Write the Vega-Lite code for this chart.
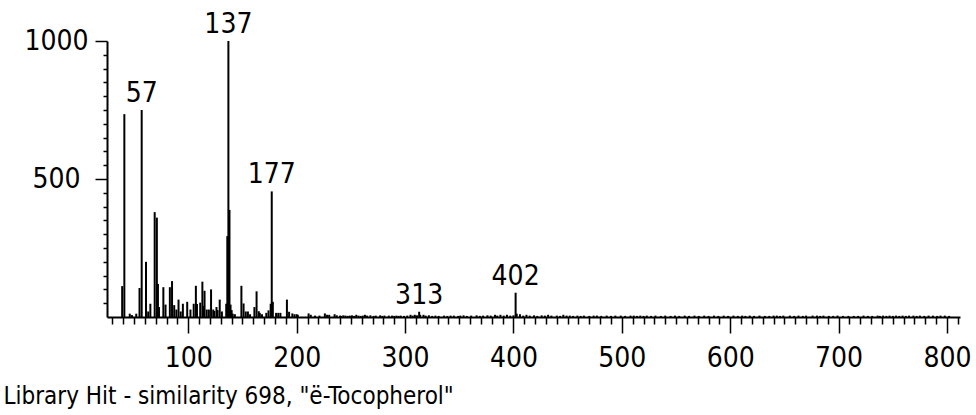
{
  "$schema": "https://vega.github.io/schema/vega-lite/v6.json",
  "autosize": {"type": "none"},
  "padding": {"left": 107, "top": 41, "right": 16, "bottom": 98},
  "width": 853,
  "height": 276,
  "background": "white",
  "view": {"stroke": null},
  "config": {
    "font": "DejaVu Sans Condensed",
    "axis": {"grid": false, "domainColor": "black", "tickColor": "black", "labelColor": "black", "titleColor": "black", "labelFont": "DejaVu Sans Condensed", "titleFont": "DejaVu Sans Condensed", "domainWidth": 2, "tickWidth": 1.5}
  },
  "datasets": {
    "spectrum": [
      {"mz": 39, "intensity": 112}, {"mz": 41, "intensity": 735}, {"mz": 46, "intensity": 12}, {"mz": 48, "intensity": 7},
      {"mz": 52, "intensity": 12}, {"mz": 55, "intensity": 105}, {"mz": 57, "intensity": 750}, {"mz": 61, "intensity": 200},
      {"mz": 63, "intensity": 20}, {"mz": 65, "intensity": 48}, {"mz": 69, "intensity": 380}, {"mz": 71, "intensity": 360},
      {"mz": 72, "intensity": 120}, {"mz": 73, "intensity": 36}, {"mz": 77, "intensity": 108}, {"mz": 79, "intensity": 45},
      {"mz": 83, "intensity": 108}, {"mz": 85, "intensity": 130}, {"mz": 87, "intensity": 43}, {"mz": 89, "intensity": 27},
      {"mz": 91, "intensity": 63}, {"mz": 93, "intensity": 20}, {"mz": 95, "intensity": 48}, {"mz": 99, "intensity": 55},
      {"mz": 102, "intensity": 27}, {"mz": 105, "intensity": 48}, {"mz": 107, "intensity": 113}, {"mz": 108, "intensity": 47},
      {"mz": 111, "intensity": 52}, {"mz": 113, "intensity": 128}, {"mz": 114, "intensity": 40}, {"mz": 115, "intensity": 95},
      {"mz": 117, "intensity": 27}, {"mz": 119, "intensity": 27}, {"mz": 121, "intensity": 100}, {"mz": 123, "intensity": 27},
      {"mz": 124, "intensity": 22}, {"mz": 126, "intensity": 36}, {"mz": 127, "intensity": 25}, {"mz": 129, "intensity": 63},
      {"mz": 131, "intensity": 20}, {"mz": 135, "intensity": 48}, {"mz": 136, "intensity": 293}, {"mz": 137, "intensity": 1000},
      {"mz": 138, "intensity": 388}, {"mz": 139, "intensity": 45}, {"mz": 140, "intensity": 25}, {"mz": 141, "intensity": 12},
      {"mz": 143, "intensity": 10}, {"mz": 149, "intensity": 113}, {"mz": 151, "intensity": 49}, {"mz": 153, "intensity": 20},
      {"mz": 155, "intensity": 20}, {"mz": 157, "intensity": 10}, {"mz": 161, "intensity": 36}, {"mz": 163, "intensity": 93},
      {"mz": 165, "intensity": 21}, {"mz": 166, "intensity": 15}, {"mz": 168, "intensity": 10}, {"mz": 172, "intensity": 15},
      {"mz": 174, "intensity": 24}, {"mz": 176, "intensity": 48}, {"mz": 177, "intensity": 455}, {"mz": 178, "intensity": 55},
      {"mz": 181, "intensity": 15}, {"mz": 183, "intensity": 15}, {"mz": 185, "intensity": 15}, {"mz": 191, "intensity": 63},
      {"mz": 193, "intensity": 19}, {"mz": 196, "intensity": 13}, {"mz": 198, "intensity": 10}, {"mz": 200, "intensity": 10},
      {"mz": 201, "intensity": 8}, {"mz": 211, "intensity": 13}, {"mz": 213, "intensity": 8}, {"mz": 217, "intensity": 5},
      {"mz": 221, "intensity": 5}, {"mz": 226, "intensity": 13}, {"mz": 228, "intensity": 8}, {"mz": 230, "intensity": 8},
      {"mz": 235, "intensity": 10}, {"mz": 237, "intensity": 6}, {"mz": 240, "intensity": 5}, {"mz": 241, "intensity": 4},
      {"mz": 243, "intensity": 6}, {"mz": 245, "intensity": 5}, {"mz": 247, "intensity": 4}, {"mz": 249, "intensity": 5},
      {"mz": 251, "intensity": 6}, {"mz": 253, "intensity": 4}, {"mz": 255, "intensity": 8}, {"mz": 257, "intensity": 5},
      {"mz": 259, "intensity": 4}, {"mz": 261, "intensity": 5}, {"mz": 263, "intensity": 8}, {"mz": 265, "intensity": 5},
      {"mz": 268, "intensity": 6}, {"mz": 271, "intensity": 4}, {"mz": 273, "intensity": 5}, {"mz": 277, "intensity": 6},
      {"mz": 279, "intensity": 4}, {"mz": 281, "intensity": 5}, {"mz": 285, "intensity": 5}, {"mz": 288, "intensity": 5},
      {"mz": 290, "intensity": 4}, {"mz": 292, "intensity": 5}, {"mz": 294, "intensity": 4}, {"mz": 296, "intensity": 5},
      {"mz": 299, "intensity": 4}, {"mz": 302, "intensity": 5}, {"mz": 305, "intensity": 8}, {"mz": 307, "intensity": 5},
      {"mz": 309, "intensity": 8}, {"mz": 311, "intensity": 6}, {"mz": 313, "intensity": 19}, {"mz": 314, "intensity": 8},
      {"mz": 317, "intensity": 8}, {"mz": 319, "intensity": 5}, {"mz": 322, "intensity": 6}, {"mz": 325, "intensity": 4},
      {"mz": 328, "intensity": 5}, {"mz": 331, "intensity": 4}, {"mz": 336, "intensity": 5}, {"mz": 339, "intensity": 4},
      {"mz": 342, "intensity": 5}, {"mz": 345, "intensity": 5}, {"mz": 349, "intensity": 4}, {"mz": 351, "intensity": 5},
      {"mz": 354, "intensity": 6}, {"mz": 357, "intensity": 4}, {"mz": 361, "intensity": 5}, {"mz": 366, "intensity": 6},
      {"mz": 369, "intensity": 4}, {"mz": 372, "intensity": 5}, {"mz": 376, "intensity": 6}, {"mz": 379, "intensity": 5},
      {"mz": 383, "intensity": 8}, {"mz": 385, "intensity": 5}, {"mz": 388, "intensity": 8}, {"mz": 391, "intensity": 5},
      {"mz": 394, "intensity": 8}, {"mz": 397, "intensity": 5}, {"mz": 400, "intensity": 6}, {"mz": 402, "intensity": 88},
      {"mz": 403, "intensity": 12}, {"mz": 406, "intensity": 10}, {"mz": 409, "intensity": 5}, {"mz": 412, "intensity": 8},
      {"mz": 415, "intensity": 5}, {"mz": 419, "intensity": 6}, {"mz": 422, "intensity": 4}, {"mz": 426, "intensity": 6},
      {"mz": 429, "intensity": 5}, {"mz": 432, "intensity": 8}, {"mz": 435, "intensity": 5}, {"mz": 440, "intensity": 5},
      {"mz": 443, "intensity": 4}, {"mz": 446, "intensity": 8}, {"mz": 449, "intensity": 5}, {"mz": 452, "intensity": 5},
      {"mz": 455, "intensity": 4}, {"mz": 459, "intensity": 5}, {"mz": 462, "intensity": 4}, {"mz": 465, "intensity": 5},
      {"mz": 470, "intensity": 4}, {"mz": 474, "intensity": 5}, {"mz": 477, "intensity": 5}, {"mz": 481, "intensity": 4},
      {"mz": 486, "intensity": 5}, {"mz": 490, "intensity": 4}, {"mz": 494, "intensity": 5}, {"mz": 499, "intensity": 5},
      {"mz": 503, "intensity": 4}, {"mz": 508, "intensity": 5}, {"mz": 511, "intensity": 5}, {"mz": 514, "intensity": 4},
      {"mz": 517, "intensity": 5}, {"mz": 520, "intensity": 4}, {"mz": 523, "intensity": 5}, {"mz": 527, "intensity": 4},
      {"mz": 531, "intensity": 5}, {"mz": 536, "intensity": 4}, {"mz": 540, "intensity": 5}, {"mz": 545, "intensity": 4},
      {"mz": 549, "intensity": 5}, {"mz": 553, "intensity": 4}, {"mz": 558, "intensity": 5}, {"mz": 562, "intensity": 4},
      {"mz": 567, "intensity": 5}, {"mz": 571, "intensity": 4}, {"mz": 576, "intensity": 5}, {"mz": 580, "intensity": 4},
      {"mz": 585, "intensity": 5}, {"mz": 589, "intensity": 4}, {"mz": 594, "intensity": 5}, {"mz": 598, "intensity": 4},
      {"mz": 603, "intensity": 5}, {"mz": 607, "intensity": 4}, {"mz": 611, "intensity": 5}, {"mz": 614, "intensity": 4},
      {"mz": 618, "intensity": 5}, {"mz": 622, "intensity": 4}, {"mz": 627, "intensity": 5}, {"mz": 632, "intensity": 4},
      {"mz": 636, "intensity": 4}, {"mz": 640, "intensity": 5}, {"mz": 643, "intensity": 5}, {"mz": 646, "intensity": 4},
      {"mz": 649, "intensity": 5}, {"mz": 655, "intensity": 5}, {"mz": 659, "intensity": 4}, {"mz": 663, "intensity": 5},
      {"mz": 667, "intensity": 4}, {"mz": 670, "intensity": 5}, {"mz": 676, "intensity": 5}, {"mz": 680, "intensity": 5},
      {"mz": 683, "intensity": 4}, {"mz": 686, "intensity": 5}, {"mz": 691, "intensity": 4}, {"mz": 695, "intensity": 4},
      {"mz": 699, "intensity": 5}, {"mz": 704, "intensity": 4}, {"mz": 709, "intensity": 4}, {"mz": 714, "intensity": 4},
      {"mz": 718, "intensity": 4}, {"mz": 723, "intensity": 5}, {"mz": 727, "intensity": 4}, {"mz": 731, "intensity": 4},
      {"mz": 736, "intensity": 5}, {"mz": 738, "intensity": 4}, {"mz": 741, "intensity": 5}, {"mz": 744, "intensity": 4},
      {"mz": 747, "intensity": 5}, {"mz": 750, "intensity": 4}, {"mz": 753, "intensity": 5}, {"mz": 756, "intensity": 4},
      {"mz": 759, "intensity": 5}, {"mz": 762, "intensity": 4}, {"mz": 765, "intensity": 5}, {"mz": 769, "intensity": 5},
      {"mz": 772, "intensity": 4}, {"mz": 775, "intensity": 5}, {"mz": 779, "intensity": 4}, {"mz": 783, "intensity": 5},
      {"mz": 787, "intensity": 5}, {"mz": 791, "intensity": 4}, {"mz": 794, "intensity": 5}, {"mz": 798, "intensity": 5},
      {"mz": 802, "intensity": 4}
    ],
    "peaks": [
      {"mz": 57, "intensity": 750},
      {"mz": 137, "intensity": 1000},
      {"mz": 177, "intensity": 455},
      {"mz": 313, "intensity": 19},
      {"mz": 402, "intensity": 88}
    ]
  },
  "encoding": {
    "x": {
      "field": "mz", "type": "quantitative",
      "scale": {"domain": [25, 812], "nice": false, "zero": false},
      "axis": {
        "values": [30,40,50,60,70,80,90,100,110,120,130,140,150,160,170,180,190,200,210,220,230,240,250,260,270,280,290,300,310,320,330,340,350,360,370,380,390,400,410,420,430,440,450,460,470,480,490,500,510,520,530,540,550,560,570,580,590,600,610,620,630,640,650,660,670,680,690,700,710,720,730,740,750,760,770,780,790,800,810],
        "format": "d",
        "labelExpr": "datum.value % 100 === 0 ? datum.label : ''",
        "tickSize": {"condition": {"test": "datum.value % 100 === 0", "value": 16}, "value": 7},
        "labelPadding": 11,
        "labelFontSize": 28,
        "labelFlush": false,
        "labelOverlap": false,
        "title": "Library Hit - similarity 698, \"ë-Tocopherol\"",
        "titleFontSize": 24,
        "titleFontWeight": "normal",
        "titleAlign": "left",
        "titleAnchor": "start",
        "titleX": -104,
        "titleY": 86,
        "titleBaseline": "alphabetic"
      }
    },
    "y": {
      "field": "intensity", "type": "quantitative",
      "scale": {"domain": [0, 1000], "nice": false},
      "axis": {
        "values": [50,100,150,200,250,300,350,400,450,500,550,600,650,700,750,800,850,900,950,1000],
        "format": "d",
        "labelExpr": "datum.value % 500 === 0 ? datum.label : ''",
        "tickSize": {"condition": {"test": "datum.value % 500 === 0", "value": 12}, "value": 4},
        "labelPadding": {"condition": {"test": "datum.value === 1000", "value": 7}, "value": 15},
        "labelFontSize": 28,
        "labelFlush": false,
        "labelOverlap": false,
        "title": null
      }
    }
  },
  "layer": [
    {
      "data": {"name": "spectrum"},
      "mark": {"type": "rule", "color": "black", "strokeWidth": 2},
      "encoding": {"y2": {"datum": 0}}
    },
    {
      "data": {"name": "peaks"},
      "mark": {"type": "text", "color": "black", "fontSize": 28, "baseline": "alphabetic", "align": "center", "dy": -8, "font": "DejaVu Sans Condensed"},
      "encoding": {"text": {"field": "mz", "type": "quantitative", "format": "d"}}
    }
  ]
}
